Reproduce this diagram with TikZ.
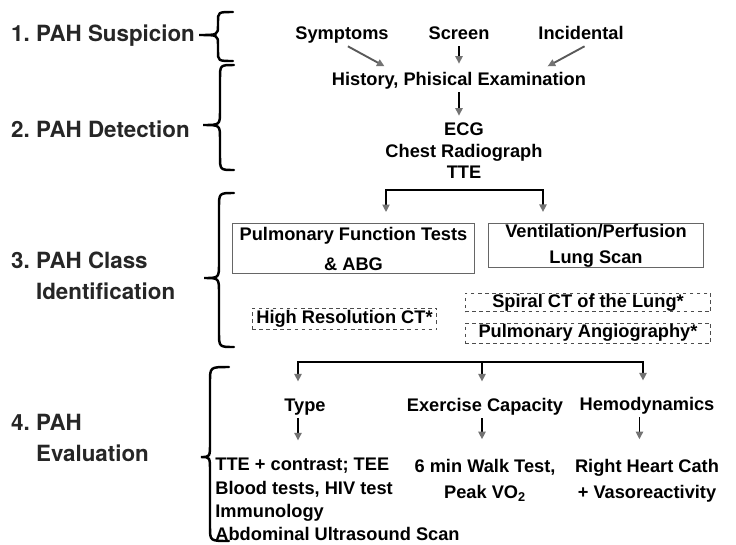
\documentclass[tikz,border=0pt]{standalone}
\usepackage{fontspec}
\setmainfont{Liberation Sans}
\newfontfamily\heros{TeX Gyre Heros}
\usetikzlibrary{arrows.meta, positioning}

\tikzset{
    gtip/.tip={Triangle[color=black!55, length=6.5pt, width=6pt]},
    stage/.style={anchor=west, inner sep=0pt, align=left, text=black!85,
        font=\heros\fontsize{19pt}{26pt}\selectfont\bfseries},
    txt/.style={inner sep=2pt, align=center,
        font=\fontsize{15.5pt}{19.5pt}\selectfont\bfseries},
    word/.style={txt, text height=11.5pt, text depth=3.3pt},
    solidbox/.style={txt, draw=black!60, line width=0.8pt, inner sep=0pt},
    dashbox/.style={txt, draw=black!70, dashed, line width=0.8pt, inner sep=0pt},
    arr/.style={line width=1.6pt, -gtip},
    fork/.style={line width=2.3pt, gtip-gtip},
    forkleg/.style={line width=2.3pt, -gtip},
    curly/.style={line width=2.1pt, line cap=round}
}

\begin{document}
\frenchspacing
\begin{tikzpicture}[x=0.85pt, y=-0.85pt]
    \useasboundingbox (0,0) rectangle (736,544);

    % Stages
    \node[stage] (st1) at (11,36) {1. PAH Suspicion};
    \node[stage] (st2) at (11,129) {2. PAH Detection};
    \node[stage] (st3) at (11,276) {3. PAH Class\\\phantom{3. }Identification};
    \node[stage] (st4) at (11,438) {4. PAH\\\phantom{4. }Evaluation};

    % Braces
    \draw[curly] (233,12) .. controls (218,12) .. (218,22) -- (218,25)
        .. controls (218,35) .. (199,35) .. controls (218,35) .. (218,45)
        -- (218,51) .. controls (218,61) .. (233,61);
    \draw[curly] (234,65) .. controls (220,65) .. (220,79) -- (220,111)
        .. controls (220,125) .. (203,125) .. controls (220,125) .. (220,139)
        -- (220,156) .. controls (220,170) .. (234,170);
    \draw[curly] (234,193) .. controls (219,193) .. (219,208) -- (219,263)
        .. controls (219,278) .. (204,278) .. controls (219,278) .. (219,293)
        -- (219,332) .. controls (219,347) .. (234,347);
    \draw[curly] (229,367) .. controls (210,367) .. (210,382) -- (210,443)
        .. controls (210,457) .. (201,457) .. controls (210,457) .. (210,471)
        -- (210,527) .. controls (210,541) .. (229,541);

    % Suspicion and detection
    \node[word] (symp) at (342,35) {Symptoms};
    \node[word] (scr) at (459,35) {Screen};
    \node[word] (inc) at (581,35) {Incidental};
    \node[word] (hist) at (459,81) {History, Phisical Examination};
    \node[txt] (ecg) at (464,151) {ECG\\[-1.2pt]Chest Radiograph\\[-1.2pt]TTE};

    \draw[arr, draw=black!65, shorten >=6pt] ([xshift=5pt]symp.south) -- ([xshift=-58pt]hist.north);
    \draw[arr, shorten >=5pt] (scr.south) -- (hist.north);
    \draw[arr, draw=black!65, shorten >=6pt] ([xshift=3pt]inc.south) -- ([xshift=70pt]hist.north);
    \draw[arr, shorten >=4pt] (hist.south) -- (hist.south |- ecg.north);

    % Class identification
    \node[solidbox, minimum width=206pt, minimum height=43pt] (pft) at (353.5,248.5)
        {Pulmonary Function Tests\\[6pt]\& ABG};
    \node[solidbox, minimum width=182pt, minimum height=38pt] (vp) at (596,245.5)
        {Ventilation/Perfusion\\[2.5pt]Lung Scan};
    \node[dashbox, minimum width=157pt, minimum height=18.5pt] (hrct) at (344.5,319) {High Resolution CT*};
    \node[dashbox, minimum width=209pt, minimum height=16pt] (spiral) at (588,302.5) {Spiral CT of the Lung*};
    \node[dashbox, minimum width=209pt, minimum height=17pt] (angio) at (588,333) {Pulmonary Angiography*};

    \coordinate (cl) at (386,190);
    \coordinate (cr) at (543,190);
    \draw[fork, shorten <=9pt, shorten >=9pt] (cl |- pft.north) -- (cl) -- (cr) -- (cr |- vp.north);

    % Evaluation
    \node[word] (type) at (305,407) {Type};
    \node[word] (exer) at (485,407) {Exercise Capacity};
    \node[word] (hemo) at (647,406) {Hemodynamics};
    \node[txt, anchor=north west, align=left, inner sep=1pt] (typelist) at (214,457)
        {TTE + contrast; TEE\\[0.4pt]Blood tests, HIV test\\[0.4pt]Immunology\\Abdominal Ultrasound Scan};
    \node[txt, anchor=north] (exlist) at (485,457) {6 min Walk Test,\\[2pt]Peak VO\textsubscript{2}};
    \node[txt, anchor=north] (hemolist) at (647,457) {Right Heart Cath\\[2pt]+ Vasoreactivity};

    \coordinate (el) at (298,362);
    \coordinate (em) at (482,362);
    \coordinate (er) at (643,362);
    \draw[fork, shorten <=12pt, shorten >=12pt] (el |- type.north) -- (el) -- (er) -- (er |- hemo.north);
    \draw[forkleg, shorten >=12pt] (em) -- (em |- exer.north);

    \draw[arr, shorten >=14pt] (el |- type.south) -- (el |- typelist.north);
    \draw[arr, shorten >=15pt] (em |- exer.south) -- (em |- exlist.north);
    \draw[arr, shorten >=15pt] ([xshift=-3pt]er |- hemo.south) -- ([xshift=-3pt]er |- hemolist.north);
\end{tikzpicture}
\end{document}
